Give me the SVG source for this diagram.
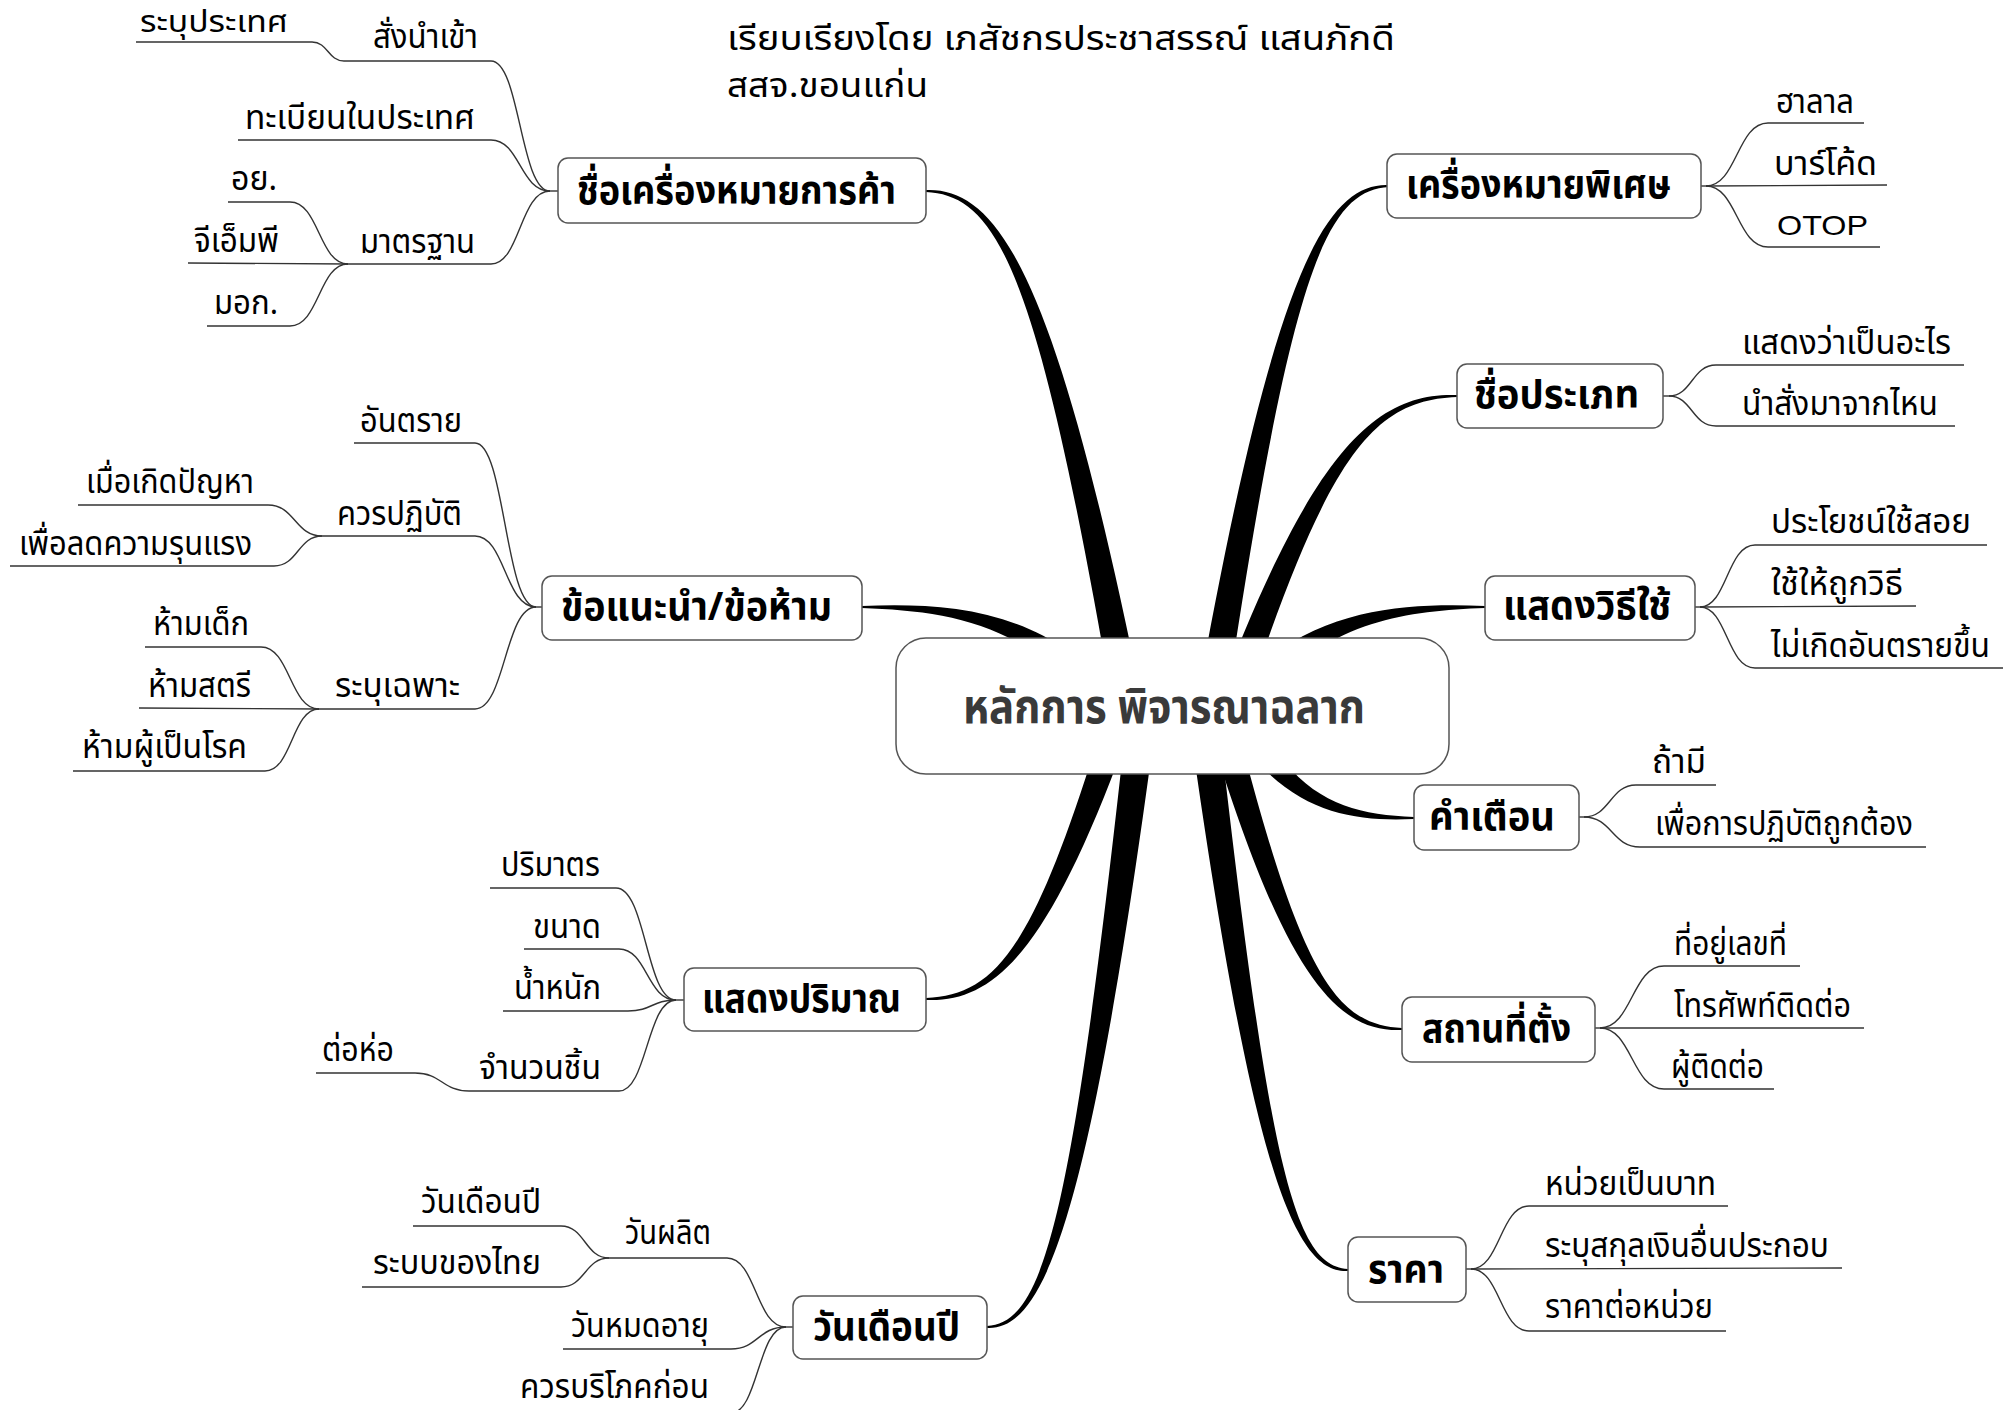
<svg xmlns="http://www.w3.org/2000/svg" width="2011" height="1410" viewBox="0 0 2011 1410">
<style>
text{font-family:"Noto Sans Thai","Noto Sans","DejaVu Sans",sans-serif;fill:#000}
.t{font-size:33px}
.ti{font-size:33px}
.m{font-size:39px;font-weight:bold}
.c{font-size:48px;font-weight:bold;fill:#3a3a3a}
.lat{font-family:"Liberation Sans",Arial,sans-serif;font-size:28px}
.box{fill:#fff;stroke:#555;stroke-width:1.5}
.br{fill:#000;stroke:none}
.ln{fill:none;stroke:#333;stroke-width:1.4}
</style>
<rect width="2011" height="1410" fill="#fff"/>

<g id="title">
<text class="ti" x="727" y="50" textLength="668" lengthAdjust="spacingAndGlyphs">เรียบเรียงโดย เภสัชกรประชาสรรณ์ แสนภักดี</text>
<text class="ti" x="727" y="97" textLength="201" lengthAdjust="spacingAndGlyphs">สสจ.ขอนแก่น</text>
</g>

<g id="connectors">
<!-- main tapered branches -->
<path class="br" d="M926,190 C1001,187 1058,284 1143,706 L1113,706 C1040,284 1001,195 926,192 Z"/>
<path class="br" d="M1389,185 C1324,182 1272,280 1196,706 L1226,706 C1290,280 1324,190 1389,187 Z"/>
<path class="br" d="M1457,395 C1374,392 1311,452 1215,706 L1245,706 C1329,452 1374,400 1457,397 Z"/>
<path class="br" d="M1485,606 C1400,603 1305,607 1228,697 L1252,715 C1315,623 1400,611 1485,608 Z"/>
<path class="br" d="M862,606 C947,603 1042,607 1119,697 L1095,715 C1032,623 947,611 862,608 Z"/>
<path class="br" d="M1414,819 C1345,822 1279,811 1222,713 L1248,699 C1291,799 1345,814 1414,817 Z"/>
<path class="br" d="M926,1000 C998,1003 1054,946 1138,706 L1108,706 C1036,946 998,995 926,998 Z"/>
<path class="br" d="M987,1328 C1045,1331 1091,1215 1158,706 L1128,706 C1073,1215 1045,1323 987,1326 Z"/>
<path class="br" d="M1402,1030 C1334,1033 1281,971 1202,706 L1232,706 C1299,971 1334,1025 1402,1028 Z"/>
<path class="br" d="M1348,1271 C1294,1274 1251,1168 1187,706 L1217,706 C1269,1168 1294,1266 1348,1269 Z"/>

<!-- group A -->
<path class="ln" d="M550,191 L558,191"/>
<path class="ln" d="M550,191 C520,191 520,61 491,61 L344,61"/>
<path class="ln" d="M344,61 C328,61 328,42 312,42 L136,42"/>
<path class="ln" d="M550,191 C520,191 520,140 491,140 L238,140"/>
<path class="ln" d="M550,191 C520,191 520,264 491,264 L348,264"/>
<path class="ln" d="M348,264 C319,264 319,202 290,202 L228,202"/>
<path class="ln" d="M348,264 L188,263"/>
<path class="ln" d="M348,264 C319,264 319,326 290,326 L207,326"/>
<!-- group F -->
<path class="ln" d="M536,607 L542,607"/>
<path class="ln" d="M536,607 C505,607 505,443 475,443 L354,443"/>
<path class="ln" d="M536,607 C505,607 505,536 475,536 L322,536"/>
<path class="ln" d="M322,536 C295,536 295,505 268,505 L78,505"/>
<path class="ln" d="M322,536 C298,536 298,566 274,566 L10,566"/>
<path class="ln" d="M536,607 C505,607 505,709 475,709 L319,709"/>
<path class="ln" d="M319,709 C290,709 290,647 261,647 L145,647"/>
<path class="ln" d="M319,709 L139,708"/>
<path class="ln" d="M319,709 C292,709 292,771 265,771 L73,771"/>
<!-- group G -->
<path class="ln" d="M676,1000 L684,1000"/>
<path class="ln" d="M676,1000 C646,1000 646,888 616,888 L490,888"/>
<path class="ln" d="M676,1000 C647,1000 647,949 619,949 L524,949"/>
<path class="ln" d="M676,1000 C652,1000 652,1011 628,1011 L503,1011"/>
<path class="ln" d="M676,1000 C647,1000 647,1091 619,1091 L469,1091"/>
<path class="ln" d="M469,1091 C442,1091 442,1073 415,1073 L316,1073"/>
<!-- group H -->
<path class="ln" d="M786,1327 L793,1327"/>
<path class="ln" d="M786,1327 C756,1327 756,1258 727,1258 L609,1258"/>
<path class="ln" d="M609,1258 C585,1258 585,1226 561,1226 L413,1226"/>
<path class="ln" d="M609,1258 C585,1258 585,1287 561,1287 L362,1287"/>
<path class="ln" d="M786,1327 C758,1327 758,1349 731,1349 L563,1349"/>
<path class="ln" d="M786,1327 C758,1327 758,1413 731,1413 L512,1413"/>
<!-- group B -->
<path class="ln" d="M1701,186 L1706,186"/>
<path class="ln" d="M1706,186 C1737,186 1737,123 1768,123 L1864,123"/>
<path class="ln" d="M1706,186 L1887,185"/>
<path class="ln" d="M1706,186 C1737,186 1737,247 1768,247 L1880,247"/>
<!-- group C -->
<path class="ln" d="M1663,396 L1669,396"/>
<path class="ln" d="M1669,396 C1692,396 1692,365 1716,365 L1964,365"/>
<path class="ln" d="M1669,396 C1692,396 1692,426 1716,426 L1955,426"/>
<!-- group D -->
<path class="ln" d="M1695,607 L1700,607"/>
<path class="ln" d="M1700,607 C1727,607 1727,545 1755,545 L1987,545"/>
<path class="ln" d="M1700,607 L1916,606"/>
<path class="ln" d="M1700,607 C1727,607 1727,668 1755,668 L2003,668"/>
<!-- group E -->
<path class="ln" d="M1579,817 L1584,817"/>
<path class="ln" d="M1584,817 C1610,817 1610,785 1636,785 L1716,785"/>
<path class="ln" d="M1584,817 C1612,817 1612,847 1640,847 L1926,847"/>
<!-- group J -->
<path class="ln" d="M1595,1028 L1600,1028"/>
<path class="ln" d="M1600,1028 C1632,1028 1632,966 1664,966 L1800,966"/>
<path class="ln" d="M1600,1028 L1864,1028"/>
<path class="ln" d="M1600,1028 C1632,1028 1632,1089 1664,1089 L1774,1089"/>
<!-- group K -->
<path class="ln" d="M1466,1269 L1471,1269"/>
<path class="ln" d="M1471,1269 C1500,1269 1500,1206 1529,1206 L1728,1206"/>
<path class="ln" d="M1471,1269 L1842,1268"/>
<path class="ln" d="M1471,1269 C1500,1269 1500,1331 1529,1331 L1726,1331"/>
</g>

<g id="center">
<rect class="box" x="896" y="638" width="553" height="136" rx="30"/>
<text class="c" x="963" y="723" textLength="402" lengthAdjust="spacingAndGlyphs">หลักการ พิจารณาฉลาก</text>
</g>

<g id="node-trademark">
<rect class="box" x="558" y="158" width="368" height="65" rx="10"/>
<text class="m" x="577" y="204" textLength="319" lengthAdjust="spacingAndGlyphs">ชื่อเครื่องหมายการค้า</text>
</g>
<g id="node-special">
<rect class="box" x="1387" y="154" width="314" height="64" rx="10"/>
<text class="m" x="1406" y="198" textLength="265" lengthAdjust="spacingAndGlyphs">เครื่องหมายพิเศษ</text>
</g>
<g id="node-type">
<rect class="box" x="1457" y="364" width="206" height="64" rx="10"/>
<text class="m" x="1474" y="408" textLength="165" lengthAdjust="spacingAndGlyphs">ชื่อประเภท</text>
</g>
<g id="node-usage">
<rect class="box" x="1485" y="576" width="210" height="64" rx="10"/>
<text class="m" x="1503" y="619" textLength="168" lengthAdjust="spacingAndGlyphs">แสดงวิธีใช้</text>
</g>
<g id="node-warning">
<rect class="box" x="1414" y="785" width="165" height="65" rx="10"/>
<text class="m" x="1429" y="830" textLength="126" lengthAdjust="spacingAndGlyphs">คำเตือน</text>
</g>
<g id="node-advice">
<rect class="box" x="542" y="576" width="320" height="64" rx="10"/>
<text class="m" x="561" y="620" textLength="271" lengthAdjust="spacingAndGlyphs">ข้อแนะนำ/ข้อห้าม</text>
</g>
<g id="node-quantity">
<rect class="box" x="684" y="968" width="242" height="63" rx="10"/>
<text class="m" x="702" y="1012" textLength="199" lengthAdjust="spacingAndGlyphs">แสดงปริมาณ</text>
</g>
<g id="node-date">
<rect class="box" x="793" y="1296" width="194" height="63" rx="10"/>
<text class="m" x="813" y="1340" textLength="147" lengthAdjust="spacingAndGlyphs">วันเดือนปี</text>
</g>
<g id="node-location">
<rect class="box" x="1402" y="997" width="193" height="65" rx="10"/>
<text class="m" x="1422" y="1042" textLength="149" lengthAdjust="spacingAndGlyphs">สถานที่ตั้ง</text>
</g>
<g id="node-price">
<rect class="box" x="1348" y="1237" width="118" height="65" rx="10"/>
<text class="m" x="1368" y="1283" textLength="76" lengthAdjust="spacingAndGlyphs">ราคา</text>
</g>

<g id="sub-trademark">
<text id="s-import" class="t" x="373" y="48" textLength="105" lengthAdjust="spacingAndGlyphs">สั่งนำเข้า</text>
<text id="s-country" class="t" x="140" y="32" style="font-size:31px" textLength="148" lengthAdjust="spacingAndGlyphs">ระบุประเทศ</text>
<text id="s-reg" class="t" x="245" y="129" textLength="230" lengthAdjust="spacingAndGlyphs">ทะเบียนในประเทศ</text>
<text id="s-std" class="t" x="360" y="253" textLength="115" lengthAdjust="spacingAndGlyphs">มาตรฐาน</text>
<text id="s-fda" class="t" x="231" y="190" textLength="46" lengthAdjust="spacingAndGlyphs">อย.</text>
<text id="s-gmp" class="t" x="194" y="252" textLength="85" lengthAdjust="spacingAndGlyphs">จีเอ็มพี</text>
<text id="s-tis" class="t" x="214" y="314" textLength="64" lengthAdjust="spacingAndGlyphs">มอก.</text>
</g>
<g id="sub-advice">
<text id="s-danger" class="t" x="360" y="432" textLength="102" lengthAdjust="spacingAndGlyphs">อันตราย</text>
<text id="s-should" class="t" x="337" y="525" textLength="125" lengthAdjust="spacingAndGlyphs">ควรปฏิบัติ</text>
<text id="s-problem" class="t" x="86" y="493" textLength="168" lengthAdjust="spacingAndGlyphs">เมื่อเกิดปัญหา</text>
<text id="s-reduce" class="t" x="19" y="555" textLength="233" lengthAdjust="spacingAndGlyphs">เพื่อลดความรุนแรง</text>
<text id="s-specific" class="t" x="335" y="697" textLength="125" lengthAdjust="spacingAndGlyphs">ระบุเฉพาะ</text>
<text id="s-child" class="t" x="153" y="635" textLength="96" lengthAdjust="spacingAndGlyphs">ห้ามเด็ก</text>
<text id="s-woman" class="t" x="148" y="697" textLength="103" lengthAdjust="spacingAndGlyphs">ห้ามสตรี</text>
<text id="s-patient" class="t" x="82" y="758" textLength="165" lengthAdjust="spacingAndGlyphs">ห้ามผู้เป็นโรค</text>
</g>
<g id="sub-quantity">
<text id="s-volume" class="t" x="501" y="876" textLength="99" lengthAdjust="spacingAndGlyphs">ปริมาตร</text>
<text id="s-size" class="t" x="533" y="938" textLength="68" lengthAdjust="spacingAndGlyphs">ขนาด</text>
<text id="s-weight" class="t" x="514" y="999" textLength="87" lengthAdjust="spacingAndGlyphs">น้ำหนัก</text>
<text id="s-count" class="t" x="479" y="1079" textLength="122" lengthAdjust="spacingAndGlyphs">จำนวนชิ้น</text>
<text id="s-pack" class="t" x="322" y="1061" textLength="72" lengthAdjust="spacingAndGlyphs">ต่อห่อ</text>
</g>
<g id="sub-date">
<text id="s-mfg" class="t" x="625" y="1244" textLength="86" lengthAdjust="spacingAndGlyphs">วันผลิต</text>
<text id="s-dmy" class="t" x="421" y="1213" textLength="120" lengthAdjust="spacingAndGlyphs">วันเดือนปี</text>
<text id="s-thai" class="t" x="373" y="1274" textLength="168" lengthAdjust="spacingAndGlyphs">ระบบของไทย</text>
<text id="s-exp" class="t" x="571" y="1337" textLength="138" lengthAdjust="spacingAndGlyphs">วันหมดอายุ</text>
<text id="s-best" class="t" x="520" y="1398" textLength="189" lengthAdjust="spacingAndGlyphs">ควรบริโภคก่อน</text>
</g>
<g id="sub-special">
<text id="s-halal" class="t" x="1776" y="113" textLength="78" lengthAdjust="spacingAndGlyphs">ฮาลาล</text>
<text id="s-barcode" class="t" x="1774" y="175" textLength="103" lengthAdjust="spacingAndGlyphs">บาร์โค้ด</text>
<text id="s-otop" class="lat" x="1777" y="235" textLength="91" lengthAdjust="spacingAndGlyphs">OTOP</text>
</g>
<g id="sub-type">
<text id="s-what" class="t" x="1742" y="354" textLength="209" lengthAdjust="spacingAndGlyphs">แสดงว่าเป็นอะไร</text>
<text id="s-from" class="t" x="1742" y="415" textLength="196" lengthAdjust="spacingAndGlyphs">นำสั่งมาจากไหน</text>
</g>
<g id="sub-usage">
<text id="s-benefit" class="t" x="1771" y="533" textLength="200" lengthAdjust="spacingAndGlyphs">ประโยชน์ใช้สอย</text>
<text id="s-right" class="t" x="1771" y="595" textLength="132" lengthAdjust="spacingAndGlyphs">ใช้ให้ถูกวิธี</text>
<text id="s-safe" class="t" x="1771" y="657" textLength="219" lengthAdjust="spacingAndGlyphs">ไม่เกิดอันตรายขึ้น</text>
</g>
<g id="sub-warning">
<text id="s-ifany" class="t" x="1652" y="773" textLength="54" lengthAdjust="spacingAndGlyphs">ถ้ามี</text>
<text id="s-correct" class="t" x="1655" y="835" textLength="258" lengthAdjust="spacingAndGlyphs">เพื่อการปฏิบัติถูกต้อง</text>
</g>
<g id="sub-location">
<text id="s-addr" class="t" x="1674" y="955" textLength="113" lengthAdjust="spacingAndGlyphs">ที่อยู่เลขที่</text>
<text id="s-phone" class="t" x="1674" y="1017" textLength="177" lengthAdjust="spacingAndGlyphs">โทรศัพท์ติดต่อ</text>
<text id="s-contact" class="t" x="1671" y="1078" textLength="93" lengthAdjust="spacingAndGlyphs">ผู้ติดต่อ</text>
</g>
<g id="sub-price">
<text id="s-baht" class="t" x="1545" y="1195" textLength="171" lengthAdjust="spacingAndGlyphs">หน่วยเป็นบาท</text>
<text id="s-currency" class="t" x="1545" y="1257" textLength="284" lengthAdjust="spacingAndGlyphs">ระบุสกุลเงินอื่นประกอบ</text>
<text id="s-unit" class="t" x="1545" y="1318" textLength="168" lengthAdjust="spacingAndGlyphs">ราคาต่อหน่วย</text>
</g>
</svg>
